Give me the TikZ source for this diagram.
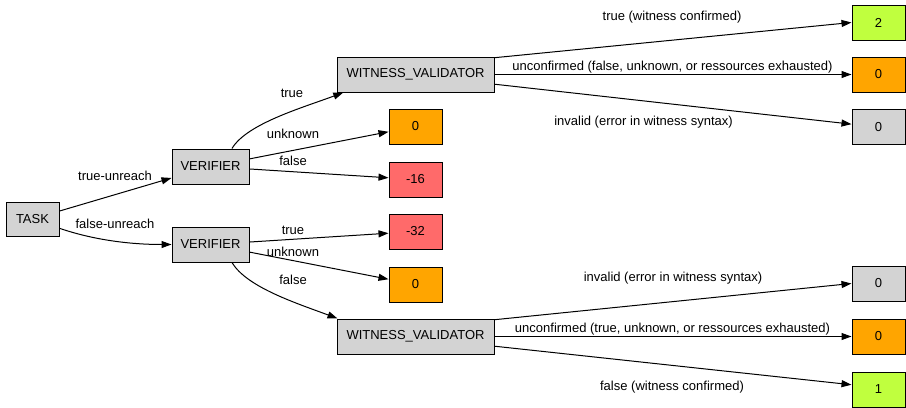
\documentclass[tikz,border=0pt]{standalone}
\usepackage{fontspec}
\setmainfont{Liberation Sans}
\usetikzlibrary{arrows.meta}
\definecolor{boxgray}{HTML}{D3D3D3}
\definecolor{boxorange}{HTML}{FFA500}
\definecolor{boxred}{HTML}{FF6A6A}
\definecolor{boxgreen}{HTML}{C0FF3E}

\begin{document}
\begin{tikzpicture}[x=0.75pt,y=-0.75pt,line width=0.75pt,
  font=\fontsize{9.75}{11}\selectfont,
  box/.style={draw,fill=boxgray,inner sep=0pt,minimum height=26.25pt},
  res/.style={box,minimum width=39.75pt},
  lbl/.style={inner sep=0pt},
  >={Triangle[length=7.5pt,width=5.25pt]}]

\useasboundingbox (0,0) rectangle (906,407);

%Prove

\node[box,minimum width=39.75pt,minimum height=25.5pt] (task) at (32.5,219) {TASK};
\node[box,minimum width=57.75pt] (vt) at (210.5,166.5) {VERIFIER};
\node[box,minimum width=57.75pt] (vb) at (210.5,244.5) {VERIFIER};
\node[box,minimum width=117.75pt] (wt) at (415.5,74.5) {WITNESS\_VALIDATOR};
\node[box,minimum width=117.75pt] (wb) at (415.5,336.5) {WITNESS\_VALIDATOR};

%Punti

\node[res,fill=boxorange] (ut) at (415.5,126.5) {0};
\node[res,fill=boxred] (ft) at (415.5,179.5) {-16};
\node[res,fill=boxred] (tb) at (415.5,231.5) {-32};
\node[res,fill=boxorange] (ub) at (415.5,284.5) {0};

\node[res,fill=boxgreen] (c2) at (878.5,22.5) {2};
\node[res,fill=boxorange] (uc1) at (878.5,74.5) {0};
\node[res] (iv1) at (878.5,127) {0};
\node[res] (iv2) at (878.5,283.5) {0};
\node[res,fill=boxorange] (uc2) at (878.5,336.5) {0};
\node[res,fill=boxgreen] (c1) at (878.5,389.5) {1};

%Archi

\draw[->] (task) -- (vt);
\draw[->] (task.-19) .. controls +(35,12) and +(-40,0) .. (vb.west);

\draw[->] (vt.40) .. controls +(15,-25) and +(-40,15) .. (wt.194);
\draw[->] (vt) -- (ut);
\draw[->] (vt) -- (ft);

\draw[->] (vb) -- (tb);
\draw[->] (vb) -- (ub);
\draw[->] (vb.-40) .. controls +(15,25) and +(-40,-15) .. (wb.167);

\draw[->] (wt.12) -- (c2.west);
\draw[->] (wt) -- (uc1);
\draw[->] (wt.-7) -- (iv1.174);

\draw[->] (wb.12) -- (iv2.west);
\draw[->] (wb) -- (uc2);
\draw[->] (wb.-7) -- (c1.170);

%Etichette

\node[lbl] (ltu) at (115,176) {true-unreach};
\node[lbl] (lfu) at (115,224) {false-unreach};

\node[lbl] (lvtt) at (292,93) {true};
\node[lbl] (lvtu) at (293,134) {unknown};
\node[lbl] (lvtf) at (293,161) {false};
\node[lbl] (lvbt) at (293,230) {true};
\node[lbl] (lvbu) at (293,252) {unknown};
\node[lbl] (lvbf) at (293,280) {false};

\node[lbl] (lwtc) at (672,17) {true (witness confirmed)};
\node[lbl] (lwtu) at (672.5,67) {unconfirmed (false, unknown, or ressources exhausted)};
\node[lbl] (lwti) at (643.5,122) {invalid (error in witness syntax)};

\node[lbl] (lwbi) at (673,278) {invalid (error in witness syntax)};
\node[lbl] (lwbu) at (672.5,329) {unconfirmed (true, unknown, or ressources exhausted)};
\node[lbl] (lwbc) at (672,387) {false (witness confirmed)};

\end{tikzpicture}
\end{document}
